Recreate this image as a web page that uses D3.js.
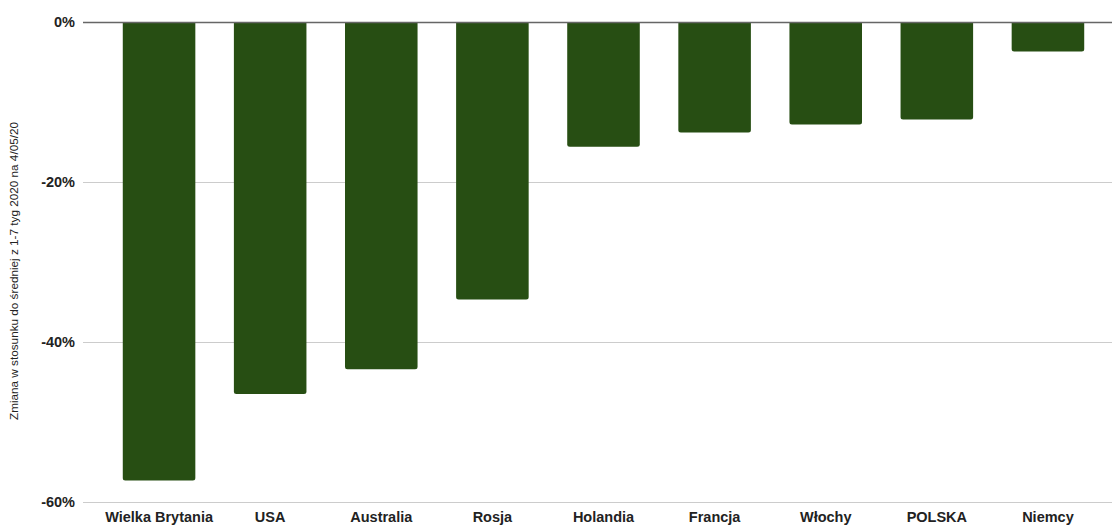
<!DOCTYPE html>
<html lang="pl">
<head>
<meta charset="UTF-8">
<title>Zmiana</title>
<script src="https://d3js.org/d3.v7.min.js"></script>
<style>
    body { margin: 0; background: #fff; font-family: Arial, "Liberation Sans", sans-serif; }
    .tick text { font-weight: bold; fill: #222; }
</style>
</head>
<body>
<div id="chart"></div>
<script>
    const countries = ["Wielka Brytania", "USA", "Australia", "Rosja", "Holandia", "Francja", "Włochy", "POLSKA", "Niemcy"];
    const changes = [-57.3, -46.5, -43.4, -34.7, -15.6, -13.8, -12.8, -12.2, -3.7];
    const yTicks = [0, -20, -40, -60];
    const yTitle = "Zmiana w stosunku do średniej z 1-7 tyg 2020 na 4/05/20";

    const w = 1112, h = 526;
    const gridLeft = 83, gridRight = 1112;

    const svg = d3.select("#chart").append("svg")
        .attr("width", w)
        .attr("height", h);

    const x = d3.scaleBand()
        .domain(countries)
        .range([103.5, 1103.5])
        .paddingInner(0.347)
        .paddingOuter(0.1735);

    const y = d3.scaleLinear()
        .domain([0, -60])
        .range([22, 502]);

    // gridlines
    svg.selectAll("line.grid")
        .data(yTicks.filter(d => d !== 0))
        .enter()
        .append("line")
        .attr("class", "grid")
        .attr("x1", gridLeft)
        .attr("x2", gridRight)
        .attr("y1", d => y(d) + 0.5)
        .attr("y2", d => y(d) + 0.5)
        .attr("stroke", "#cccccc")
        .attr("stroke-width", 1);

    // bars, rounded at the bottom only
    const r = 2.5;
    svg.selectAll("path.bar")
        .data(countries)
        .enter()
        .append("path")
        .attr("class", "bar")
        .attr("fill", "#274e13")
        .attr("d", (c, i) => {
            const x0 = x(c), x1 = x(c) + x.bandwidth();
            const y0 = y(0), y1 = y(changes[i]);
            return "M" + x0 + "," + y0 +
                "L" + x0 + "," + (y1 - r) +
                "Q" + x0 + "," + y1 + " " + (x0 + r) + "," + y1 +
                "L" + (x1 - r) + "," + y1 +
                "Q" + x1 + "," + y1 + " " + x1 + "," + (y1 - r) +
                "L" + x1 + "," + y0 + "Z";
        });

    // zero line
    svg.append("line")
        .attr("x1", gridLeft)
        .attr("x2", gridRight)
        .attr("y1", y(0) + 0.5)
        .attr("y2", y(0) + 0.5)
        .attr("stroke", "#666")
        .attr("stroke-width", 1.3);

    const yAxis = d3.axisLeft(y)
        .tickValues(yTicks)
        .tickSize(0)
        .tickPadding(0)
        .tickFormat(d => d + "%");

    svg.append("g")
        .attr("transform", "translate(75,0)")
        .call(yAxis)
        .call(g => g.select(".domain").remove())
        .selectAll("text")
        .style("font-size", "14.5px");

    const xAxis = d3.axisBottom(x)
        .tickSize(0)
        .tickPadding(0);

    svg.append("g")
        .attr("transform", "translate(0,512)")
        .call(xAxis)
        .call(g => g.select(".domain").remove())
        .selectAll("text")
        .style("font-size", "14.5px");

    svg.append("text")
        .attr("transform", "translate(18,271) rotate(-90)")
        .attr("text-anchor", "middle")
        .style("font-size", "11px")
        .attr("textLength", 298)
        .attr("lengthAdjust", "spacingAndGlyphs")
        .attr("fill", "#222")
        .text(yTitle);
</script>
</body>
</html>
